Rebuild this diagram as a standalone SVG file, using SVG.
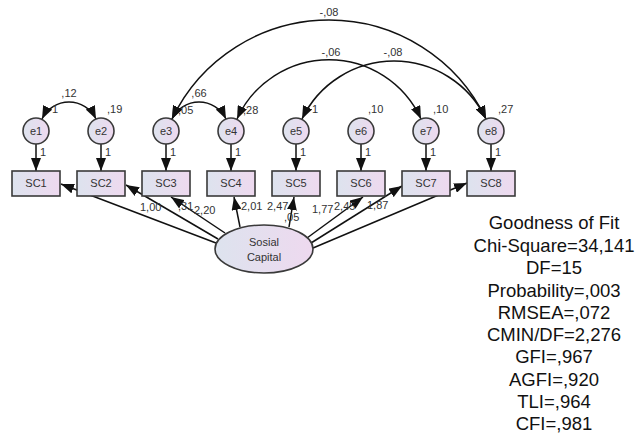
<svg xmlns="http://www.w3.org/2000/svg" width="642" height="434" viewBox="0 0 642 434">
  <defs>
    <linearGradient id="fillGrad" x1="0" y1="0" x2="1" y2="0">
      <stop offset="0" stop-color="#dde3ee"/>
      <stop offset="1" stop-color="#eed9ef"/>
    </linearGradient>
    <marker id="arrow" viewBox="0 0 13 10" refX="13" refY="5" markerWidth="13" markerHeight="10" markerUnits="userSpaceOnUse" orient="auto-start-reverse">
      <path d="M0,0 L13,5 L0,10 Z" fill="#111"/>
    </marker>
    <style>
      .node { fill: url(#fillGrad); stroke: #3a3a3a; stroke-width: 1.6; }
      .name { font-family: "Liberation Sans", Arial, sans-serif; font-size: 11px; fill: #333; text-anchor: middle; }
      .lbl { font-family: "Liberation Sans", Arial, sans-serif; font-size: 11px; fill: #333; }
      .mid { text-anchor: middle; }
      .edge { fill: none; stroke: #111; stroke-width: 1.5; marker-end: url(#arrow); }
      .cov { fill: none; stroke: #111; stroke-width: 1.5; marker-start: url(#arrow); marker-end: url(#arrow); }
      .fit { font-family: "Liberation Sans", Arial, sans-serif; font-size: 18.5px; fill: #111; text-anchor: middle; }
    </style>
  </defs>
  <rect width="642" height="434" fill="#fff"/>

  <!-- connectors -->
  <g id="connectors">
    <!-- error terms to indicators -->
    <line class="edge" x1="36" y1="144" x2="36" y2="171"/>
    <line class="edge" x1="101" y1="144" x2="101" y2="171"/>
    <line class="edge" x1="166" y1="144" x2="166" y2="171"/>
    <line class="edge" x1="231" y1="144" x2="231" y2="171"/>
    <line class="edge" x1="296" y1="144" x2="296" y2="171"/>
    <line class="edge" x1="361" y1="144" x2="361" y2="171"/>
    <line class="edge" x1="426" y1="144" x2="426" y2="171"/>
    <line class="edge" x1="491" y1="144" x2="491" y2="171"/>
    <!-- latent factor to indicators -->
    <line class="edge" x1="216" y1="243" x2="61" y2="184"/>
    <line class="edge" x1="218" y1="239" x2="126" y2="185"/>
    <line class="edge" x1="225" y1="233" x2="171" y2="197"/>
    <line class="edge" x1="240" y1="227" x2="234" y2="197"/>
    <line class="edge" x1="289" y1="227" x2="294" y2="197"/>
    <line class="edge" x1="307" y1="238" x2="363" y2="197"/>
    <line class="edge" x1="311" y1="243" x2="402" y2="186"/>
    <line class="edge" x1="313" y1="248" x2="467" y2="183"/>
    <!-- error covariances -->
    <path class="cov" d="M42,119 A30,30 0 0,1 96,119"/>
    <path class="cov" d="M172,119 A30,30 0 0,1 226,119"/>
    <path class="cov" d="M172,119 A174,174 0 0,1 486,119"/>
    <path class="cov" d="M237,119 A101,101 0 0,1 421,119"/>
    <path class="cov" d="M302,119 A102,102 0 0,1 486,119"/>
  </g>

  <!-- error terms -->
  <g id="e1"><circle class="node" cx="36" cy="131" r="13"/><text class="name" x="36" y="135">e1</text></g>
  <g id="e2"><circle class="node" cx="101" cy="131" r="13"/><text class="name" x="101" y="135">e2</text></g>
  <g id="e3"><circle class="node" cx="166" cy="131" r="13"/><text class="name" x="166" y="135">e3</text></g>
  <g id="e4"><circle class="node" cx="231" cy="131" r="13"/><text class="name" x="231" y="135">e4</text></g>
  <g id="e5"><circle class="node" cx="296" cy="131" r="13"/><text class="name" x="296" y="135">e5</text></g>
  <g id="e6"><circle class="node" cx="361" cy="131" r="13"/><text class="name" x="361" y="135">e6</text></g>
  <g id="e7"><circle class="node" cx="426" cy="131" r="13"/><text class="name" x="426" y="135">e7</text></g>
  <g id="e8"><circle class="node" cx="491" cy="131" r="13"/><text class="name" x="491" y="135">e8</text></g>

  <!-- observed indicators -->
  <g id="SC1"><rect class="node" x="12" y="171" width="48" height="25"/><text class="name" x="36" y="187">SC1</text></g>
  <g id="SC2"><rect class="node" x="77" y="171" width="48" height="25"/><text class="name" x="101" y="187">SC2</text></g>
  <g id="SC3"><rect class="node" x="142" y="171" width="48" height="25"/><text class="name" x="166" y="187">SC3</text></g>
  <g id="SC4"><rect class="node" x="207" y="171" width="48" height="25"/><text class="name" x="231" y="187">SC4</text></g>
  <g id="SC5"><rect class="node" x="272" y="171" width="48" height="25"/><text class="name" x="296" y="187">SC5</text></g>
  <g id="SC6"><rect class="node" x="337" y="171" width="48" height="25"/><text class="name" x="361" y="187">SC6</text></g>
  <g id="SC7"><rect class="node" x="402" y="171" width="48" height="25"/><text class="name" x="426" y="187">SC7</text></g>
  <g id="SC8"><rect class="node" x="467" y="171" width="48" height="25"/><text class="name" x="491" y="187">SC8</text></g>

  <!-- latent factor -->
  <g id="SosialCapital">
    <ellipse class="node" cx="264" cy="249" rx="49" ry="24"/>
    <text class="name" x="264" y="246">Sosial</text>
    <text class="name" x="264" y="261">Capital</text>
  </g>

  <!-- estimates -->
  <g id="estimates">
    <text class="lbl mid" x="69" y="97">,12</text>
    <text class="lbl mid" x="199" y="97">,66</text>
    <text class="lbl mid" x="329" y="16">-,08</text>
    <text class="lbl mid" x="331" y="56">-,06</text>
    <text class="lbl mid" x="393" y="56">-,08</text>

    <text class="lbl" x="52" y="113">1</text>
    <text class="lbl" x="107" y="113">,19</text>
    <text class="lbl" x="178" y="114">,05</text>
    <text class="lbl" x="243" y="114">,28</text>
    <text class="lbl" x="312" y="113">1</text>
    <text class="lbl" x="368" y="113">,10</text>
    <text class="lbl" x="433" y="113">,10</text>
    <text class="lbl" x="498" y="113">,27</text>

    <text class="lbl" x="40" y="156">1</text>
    <text class="lbl" x="105" y="156">1</text>
    <text class="lbl" x="170" y="156">1</text>
    <text class="lbl" x="235" y="156">1</text>
    <text class="lbl" x="300" y="156">1</text>
    <text class="lbl" x="365" y="156">1</text>
    <text class="lbl" x="430" y="156">1</text>
    <text class="lbl" x="495" y="156">1</text>

    <text class="lbl" x="140" y="211">1,00</text>
    <text class="lbl" x="178" y="210">,31</text>
    <text class="lbl" x="194" y="214">2,20</text>
    <text class="lbl" x="241" y="210">2,01</text>
    <text class="lbl" x="267" y="210">2,47</text>
    <text class="lbl" x="284" y="221">,05</text>
    <text class="lbl" x="312" y="213">1,77</text>
    <text class="lbl" x="334" y="210">2,45</text>
    <text class="lbl" x="367" y="209">1,87</text>
  </g>

  <!-- fit summary -->
  <g id="fit">
    <text class="fit" x="554" y="229">Goodness of Fit</text>
    <text class="fit" x="554" y="252">Chi-Square=34,141</text>
    <text class="fit" x="554" y="274">DF=15</text>
    <text class="fit" x="554" y="297">Probability=,003</text>
    <text class="fit" x="554" y="319">RMSEA=,072</text>
    <text class="fit" x="554" y="341">CMIN/DF=2,276</text>
    <text class="fit" x="554" y="363">GFI=,967</text>
    <text class="fit" x="554" y="386">AGFI=,920</text>
    <text class="fit" x="554" y="408">TLI=,964</text>
    <text class="fit" x="554" y="430">CFI=,981</text>
  </g>
</svg>
